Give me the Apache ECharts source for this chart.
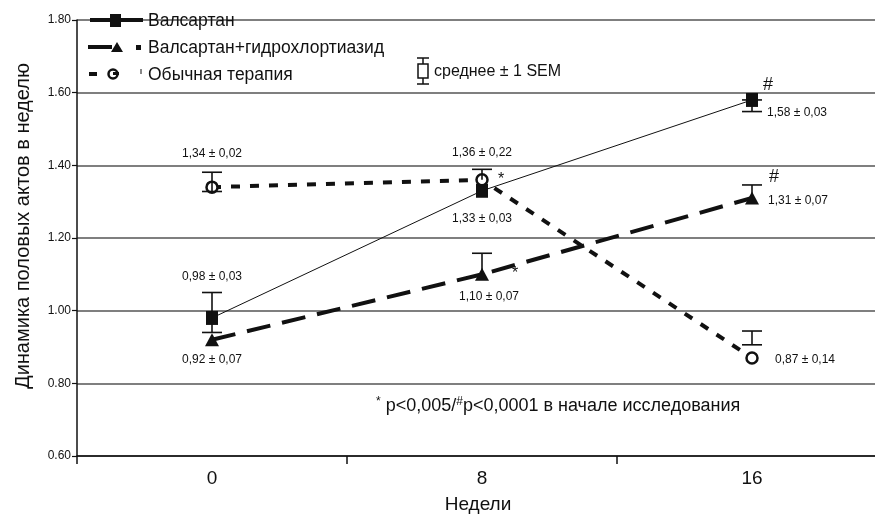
<!DOCTYPE html>
<html><head><meta charset="utf-8">
<script src="https://cdn.jsdelivr.net/npm/echarts@6/dist/echarts.min.js"></script>
<style>html,body{margin:0;padding:0;background:#fff;overflow:hidden}#c{width:887px;height:516px}</style>
</head><body><div id="c"></div>
<script>
const weeks = ['0','8','16'];
const valsartan = [0.98, 1.33, 1.58];
const valsartanHctz = [0.92, 1.10, 1.31];
const usualTherapy = [1.34, 1.36, 0.87];
// drawn error bar ends [low, high]
const errValsartan = [[0.94, 1.05], [1.33, 1.33], [1.548, 1.58]];
const errHctz = [[0.92, 0.92], [1.10, 1.158], [1.31, 1.346]];
const errUsual = [[1.328, 1.381], [1.36, 1.389], [0.906, 0.944]];
const lblValsartan = ['0,98 ± 0,03', '1,33 ± 0,03', '1,58 ± 0,03'];
const lblHctz = ['0,92 ± 0,07', '1,10 ± 0,07', '1,31 ± 0,07'];
const lblUsual = ['1,34 ± 0,02', '1,36 ± 0,22', '0,87 ± 0,14'];
const yTicks = [0.6, 0.8, 1.0, 1.2, 1.4, 1.6, 1.8];

const offV = [[0,-41],[0,28],[45,13]];
const offH = [[0,20],[7,22],[46,3]];
const offU = [[0,-33],[0,-27],[53,2]];
const FONT = 'Liberation Sans, Arial, sans-serif';

function mkData(vals, lbls, offs) {
  return vals.map((v, i) => ({
    value: v,
    label: {show: true, position: 'inside', offset: offs[i], formatter: lbls[i],
      color: '#111', fontSize: 12, fontFamily: FONT}
  }));
}
function errSeries(errs, name, lowerCaps) {
  return {
    type: 'custom', name: name, z: 5,
    data: errs.map((e, i) => [i, e[0], e[1], lowerCaps[i] ? 1 : 0]),
    renderItem: function (params, api) {
      const lo = api.coord([api.value(0), api.value(1)]);
      const hi = api.coord([api.value(0), api.value(2)]);
      const x = lo[0], hw = 10;
      const st = {stroke: '#111', lineWidth: 1.6};
      const children = [];
      if (Math.abs(hi[1] - lo[1]) < 0.5) return {type: 'group', children: []};
      children.push({type: 'line', shape: {x1: x, y1: lo[1], x2: x, y2: hi[1]}, style: st});
      children.push({type: 'line', shape: {x1: x - hw, y1: hi[1], x2: x + hw, y2: hi[1]}, style: st});
      if (api.value(3)) children.push({type: 'line', shape: {x1: x - hw, y1: lo[1], x2: x + hw, y2: lo[1]}, style: st});
      return {type: 'group', children: children};
    }
  };
}

const chart = echarts.init(document.getElementById('c'), null, {renderer: 'canvas'});
const option = {
  animation: false,
  backgroundColor: '#fff',
  grid: {left: 77, right: 0, top: 20, bottom: 60, containLabel: false},
  xAxis: {
    type: 'category', data: weeks, boundaryGap: true,
    axisLine: {lineStyle: {color: '#111', width: 1.5}},
    axisTick: {show: true, length: 8, lineStyle: {color: '#111', width: 1.5}},
    axisLabel: {fontSize: 19, color: '#111', margin: 13, fontFamily: FONT},
    splitLine: {show: false}
  },
  yAxis: {
    type: 'value', min: 0.6, max: 1.8, interval: 0.2,
    axisLine: {show: true, lineStyle: {color: '#111', width: 1.5}},
    axisTick: {show: true, length: 5, lineStyle: {color: '#111', width: 1.2}},
    axisLabel: {fontSize: 12, color: '#111', margin: 6, fontFamily: FONT,
      formatter: v => yTicks.some(t => Math.abs(t - v) < 1e-6) ? v.toFixed(2) : ''},
    splitLine: {show: true, lineStyle: {color: '#555', width: 1.5}}
  },
  series: [
    {
      name: 'Валсартан', type: 'line', z: 3,
      data: mkData(valsartan, lblValsartan, offV),
      symbol: 'rect', symbolSize: [12, 14],
      itemStyle: {color: '#111'},
      lineStyle: {color: '#111', width: 1}
    },
    {
      name: 'Валсартан+гидрохлортиазид', type: 'line', z: 3,
      data: mkData(valsartanHctz, lblHctz, offH),
      symbol: 'triangle', symbolSize: [14, 13],
      itemStyle: {color: '#111'},
      lineStyle: {color: '#111', width: 4, type: [24, 12]}
    },
    {
      name: 'Обычная терапия', type: 'line', z: 4,
      data: mkData(usualTherapy, lblUsual, offU),
      symbol: 'circle', symbolSize: 11,
      itemStyle: {color: '#fff', borderColor: '#111', borderWidth: 2.5},
      lineStyle: {color: '#111', width: 4, type: [9, 10]}
    },
    errSeries(errValsartan, 'errV', [true, false, true]),
    errSeries(errHctz, 'errH', [false, false, false]),
    errSeries(errUsual, 'errU', [true, false, true])
  ]
};
chart.setOption(option);

// annotations positioned relative to data points
const p = (i, v) => chart.convertToPixel({gridIndex: 0}, [i, v]);
const sq8 = p(1, valsartan[1]), tr8 = p(1, valsartanHctz[1]);
const sq16 = p(2, valsartan[2]), tr16 = p(2, valsartanHctz[2]);
const gTop = p(0, 1.8)[1], gBot = p(0, 0.6)[1];
const txt = (x, y, s, size) => ({type: 'text', x: x, y: y,
  style: {text: s, fill: '#111', fontSize: size, fontFamily: FONT, textAlign: 'center', textVerticalAlign: 'middle'}});
chart.setOption({
  graphic: [
    txt(sq8[0] + 19, sq8[1] - 11, '*', 16),
    txt(tr8[0] + 33, tr8[1] - 1, '*', 16),
    txt(sq16[0] + 16, sq16[1] - 15, '#', 18),
    txt(tr16[0] + 22, tr16[1] - 21, '#', 18),
    // axis titles
    {type: 'text', x: 23, y: (gTop + gBot) / 2 - 12, rotation: Math.PI / 2,
      style: {text: 'Динамика половых актов в неделю', fill: '#111', fontSize: 20, fontFamily: FONT,
        textAlign: 'center', textVerticalAlign: 'middle'}},
    {type: 'text', x: 478, y: gBot + 49,
      style: {text: 'Недели', fill: '#111', fontSize: 19, fontFamily: FONT,
        textAlign: 'center', textVerticalAlign: 'middle'}},
    {type: 'text', x: 376, y: gBot - 50, style: {
      text: '{s|*} p<0,005/{s|#}p<0,0001 в начале исследования',
      fill: '#111', fontSize: 18, fontFamily: FONT, textVerticalAlign: 'middle',
      rich: {s: {fontSize: 12, verticalAlign: 'top', fontFamily: FONT, fill: '#111', padding: [0, 0, 8, 0]}}
    }},
    // legend
    {type: 'line', shape: {x1: 90, y1: 20, x2: 143, y2: 20}, style: {stroke: '#111', lineWidth: 4}},
    {type: 'rect', shape: {x: 110, y: 14, width: 11, height: 13}, style: {fill: '#111'}},
    {type: 'text', x: 148, y: 21, style: {text: 'Валсартан', fill: '#111', fontSize: 17.5, fontFamily: FONT, textVerticalAlign: 'middle'}},
    {type: 'line', shape: {x1: 88, y1: 47, x2: 112, y2: 47}, style: {stroke: '#111', lineWidth: 4}},
    {type: 'polygon', shape: {points: [[111, 52], [123, 52], [117, 42]]}, style: {fill: '#111'}},
    {type: 'rect', shape: {x: 136, y: 45, width: 5, height: 5}, style: {fill: '#111'}},
    {type: 'text', x: 148, y: 48, style: {text: 'Валсартан+гидрохлортиазид', fill: '#111', fontSize: 17.5, fontFamily: FONT, textVerticalAlign: 'middle'}},
    {type: 'rect', shape: {x: 89, y: 72, width: 8, height: 4}, style: {fill: '#111'}},
    {type: 'circle', shape: {cx: 113, cy: 74, r: 4.5}, style: {fill: 'none', stroke: '#111', lineWidth: 2.5}},
    {type: 'rect', shape: {x: 113, y: 72, width: 6, height: 3}, style: {fill: '#111'}},
    {type: 'line', shape: {x1: 141, y1: 69, x2: 141, y2: 74}, style: {stroke: '#111', lineWidth: 1}},
    {type: 'text', x: 148, y: 75, style: {text: 'Обычная терапия', fill: '#111', fontSize: 17.5, fontFamily: FONT, textVerticalAlign: 'middle'}},
    // SEM legend symbol
    {type: 'line', shape: {x1: 417, y1: 58, x2: 429, y2: 58}, style: {stroke: '#111', lineWidth: 1.5}},
    {type: 'line', shape: {x1: 423, y1: 58, x2: 423, y2: 84}, style: {stroke: '#111', lineWidth: 1.5}},
    {type: 'line', shape: {x1: 417, y1: 84, x2: 429, y2: 84}, style: {stroke: '#111', lineWidth: 1.5}},
    {type: 'rect', shape: {x: 418, y: 64, width: 10, height: 14}, style: {fill: '#fff', stroke: '#111', lineWidth: 1.5}},
    {type: 'text', x: 434, y: 72, style: {text: 'среднее ± 1 SEM', fill: '#111', fontSize: 16, fontFamily: FONT, textVerticalAlign: 'middle'}}
  ]
});
</script></body></html>
